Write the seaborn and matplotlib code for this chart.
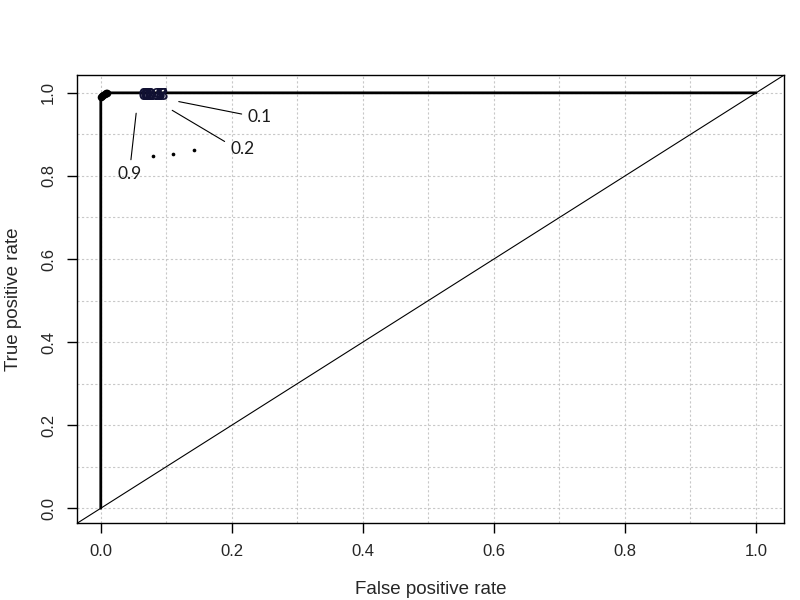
import numpy as np
import pandas as pd
import matplotlib
matplotlib.use('Agg')
import matplotlib.pyplot as plt
import seaborn as sns

# ROC curve (thick black line)
roc_fpr = [0.0, 0.0, 0.002, 0.005, 0.010, 1.0]
roc_tpr = [0.0, 0.986, 0.993, 0.997, 1.0, 1.0]

# threshold points bunched in the top-left corner
cut_fpr = [0.0, 0.002, 0.004, 0.006, 0.008, 0.010]
cut_tpr = [0.990, 0.993, 0.995, 0.997, 0.999, 1.0]

# small stray dots
dot_fpr = [0.079, 0.110, 0.142]
dot_tpr = [0.848, 0.854, 0.863]

# overlapping cutoff labels near the top
over_labels = ['0.3', '0.4', '0.5', '0.6', '0.7', '0.8']
over_x = [0.076, 0.078, 0.080, 0.082, 0.084, 0.086]
over_y = [0.995, 0.995, 0.995, 0.995, 0.995, 0.995]

# labelled cutoffs with leader lines
lab_text = ['0.1', '0.2', '0.9']
lab_x = [0.243, 0.217, 0.044]
lab_y = [0.943, 0.864, 0.804]
lead_x0 = [0.119, 0.109, 0.054]
lead_y0 = [0.979, 0.958, 0.951]
lead_x1 = [0.215, 0.189, 0.046]
lead_y1 = [0.949, 0.883, 0.839]

sns.set_style('white')
plt.rcParams['font.family'] = ['Liberation Sans', 'DejaVu Sans']

fig = plt.figure(figsize=(8, 6), dpi=100)
ax = fig.add_axes([0.096, 0.128, 0.884, 0.747])

ax.set_xticks(np.arange(0, 1.01, 0.1), minor=True)
ax.set_yticks(np.arange(0, 1.01, 0.1), minor=True)
ax.grid(True, which='both', linestyle=(0, (2, 2)), color='#c8c8c8', linewidth=0.8)
ax.set_axisbelow(True)

ax.axline((0, 0), slope=1, color='black', linewidth=0.8)

roc = pd.DataFrame({'fpr': roc_fpr, 'tpr': roc_tpr})
sns.lineplot(data=roc, x='fpr', y='tpr', sort=False, estimator=None,
             color='black', linewidth=2, ax=ax)
sns.scatterplot(x=cut_fpr, y=cut_tpr, color='black', s=30, linewidth=0, ax=ax)
sns.scatterplot(x=dot_fpr, y=dot_tpr, color='black', s=7, linewidth=0, ax=ax)

for t, x, y in zip(over_labels, over_x, over_y):
    ax.text(x, y, t, ha='center', va='center', fontsize=12, fontweight='bold',
            color='#111133', family=['Lato', 'DejaVu Sans'])

for i, t in enumerate(lab_text):
    ax.plot([lead_x0[i], lead_x1[i]], [lead_y0[i], lead_y1[i]], color='black', linewidth=0.8)
    ax.text(lab_x[i], lab_y[i], t, ha='center', va='center', fontsize=12.5,
            color='#1a1a1a', family=['Lato', 'DejaVu Sans'])

ax.set_xlim(-0.0366, 1.0427)
ax.set_ylim(-0.036, 1.043)
ax.set_xticks(np.arange(0, 1.01, 0.2))
ax.set_yticks(np.arange(0, 1.01, 0.2))
ax.set_xticklabels([f'{v:.1f}' for v in np.arange(0, 1.01, 0.2)])
ax.set_yticklabels([f'{v:.1f}' for v in np.arange(0, 1.01, 0.2)], rotation=90, va='center')
ax.tick_params(which='major', direction='out', length=7, width=1, color='black',
               labelsize=12, pad=8, bottom=True, left=True)
ax.tick_params(which='minor', length=0)
for s in ax.spines.values():
    s.set_color('black')
    s.set_linewidth(1)

ax.set_xlabel('False positive rate', fontsize=13.5, labelpad=16)
ax.set_ylabel('True positive rate', fontsize=13.5, labelpad=14)

plt.savefig('out.png', dpi=100)
plt.close()
